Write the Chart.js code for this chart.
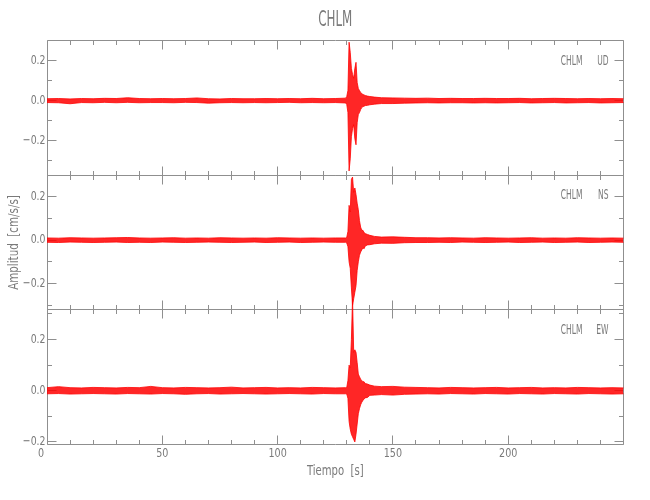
<!DOCTYPE html>
<html>
<head>
<meta charset="utf-8">
<title>CHLM</title>
<script src="https://cdn.jsdelivr.net/npm/chart.js"></script>
<style>
  html, body { margin: 0; padding: 0; background: #fff; }
  #wrap { width: 650px; height: 500px; }
</style>
</head>
<body>
<div id="wrap"><canvas id="sismo" width="650" height="500"></canvas></div>
<script>
// Estacion y componentes
const station = 'CHLM';
const components = ['UD', 'NS', 'EW'];

// Tiempo [s] del ruido (muestreado cada 5 s, fuera de la ventana del evento)
const noiseTime = [0, 5, 10, 15, 20, 25, 30, 35, 40, 45, 50, 55, 60, 65, 70, 75, 80, 85, 90, 95, 100, 105, 110, 115, 120, 125,
    150, 155, 160, 165, 170, 175, 180, 185, 190, 195, 200, 205, 210, 215, 220, 225, 230, 235, 240, 245, 250];
// Tiempo [s] de la ventana del evento
const burstTime = [129.5, 130, 130.5, 131, 131.5, 132, 132.5, 133, 133.5, 134, 134.5, 135, 135.5, 136, 136.5, 137, 137.5, 138, 139, 140, 142, 145];

// Envolvente (max / min) en cm/s/s
const udNoiseHi = [.009, .010, .008, .010, .009, .011, .010, .014, .010, .009, .010, .009, .010, .013, .009, .008, .010, .009, .009, .010, .009, .010, .009, .011, .009, .010,
    .013, .012, .011, .012, .010, .011, .010, .010, .011, .010, .010, .011, .009, .010, .011, .010, .009, .010, .009, .010, .009];
const udNoiseLo = [-.010, -.011, -.016, -.010, -.011, -.009, -.011, -.009, -.011, -.010, -.010, -.011, -.009, -.010, -.013, -.011, -.010, -.011, -.010, -.011, -.010, -.009, -.011, -.010, -.011, -.010,
    -.015, -.013, -.012, -.011, -.012, -.011, -.011, -.012, -.011, -.012, -.011, -.010, -.012, -.011, -.010, -.012, -.011, -.010, -.012, -.011, -.010];
const udBurstHi = [.012, .02, .05, .29, .24, .16, .13, .11, .16, .19, .09, .06, .05, .04, .035, .03, .028, .025, .022, .02, .017, .014];
const udBurstLo = [-.012, -.02, -.06, -.35, -.29, -.18, -.14, -.12, -.19, -.22, -.11, -.07, -.06, -.045, -.035, -.03, -.028, -.025, -.024, -.021, -.018, -.015];

const nsNoiseHi = [.010, .009, .011, .010, .009, .010, .011, .012, .010, .009, .010, .011, .009, .010, .009, .011, .010, .009, .010, .009, .011, .010, .009, .010, .009, .010,
    .015, .013, .011, .011, .010, .011, .010, .009, .011, .010, .009, .010, .011, .009, .010, .009, .011, .010, .009, .010, .009];
const nsNoiseLo = [-.010, -.011, -.009, -.010, -.011, -.010, -.009, -.011, -.010, -.011, -.009, -.010, -.011, -.010, -.009, -.010, -.011, -.010, -.009, -.011, -.010, -.009, -.011, -.010, -.009, -.010,
    -.015, -.012, -.011, -.011, -.010, -.011, -.009, -.010, -.011, -.010, -.009, -.011, -.010, -.009, -.011, -.010, -.009, -.011, -.010, -.009, -.010];
const nsBurstHi = [.010, .013, .04, .16, .13, .28, .29, .22, .24, .21, .17, .14, .09, .06, .045, .045, .035, .03, .026, .022, .017, .014];
const nsBurstLo = [-.010, -.013, -.03, -.10, -.13, -.22, -.30, -.27, -.24, -.21, -.14, -.10, -.07, -.055, -.045, -.035, -.04, -.027, -.022, -.021, -.017, -.014];

const ewNoiseHi = [.012, .016, .012, .011, .013, .012, .011, .013, .012, .017, .012, .011, .013, .012, .011, .012, .014, .011, .012, .013, .011, .012, .011, .013, .012, .011,
    .017, .014, .013, .012, .011, .013, .012, .011, .012, .013, .011, .012, .013, .011, .012, .011, .013, .012, .011, .012, .011];
const ewNoiseLo = [-.012, -.011, -.013, -.012, -.011, -.012, -.013, -.011, -.012, -.013, -.011, -.012, -.014, -.012, -.011, -.013, -.012, -.011, -.012, -.013, -.012, -.011, -.012, -.013, -.011, -.012,
    -.017, -.014, -.013, -.012, -.013, -.011, -.012, -.013, -.011, -.012, -.013, -.011, -.012, -.013, -.011, -.012, -.013, -.011, -.012, -.013, -.012];
const ewBurstHi = [.012, .013, .04, .10, .09, .20, .36, .15, .16, .15, .11, .065, .055, .045, .04, .035, .035, .028, .026, .022, .018, .016];
const ewBurstLo = [-.012, -.013, -.03, -.12, -.15, -.17, -.18, -.19, -.20, -.17, -.13, -.09, -.07, -.055, -.045, -.038, -.032, -.028, -.026, -.018, -.017, -.015];

// Rango de cada eje Y y marcas
const yRanges = [[-0.371, 0.2985], [-0.321, 0.299], [-0.21, 0.316]];
const xTickLabels = [0, 50, 100, 150, 200];
const yTickLabels = [-0.2, 0.0, 0.2];

const FONT = "'Liberation Sans Narrow', 'DejaVu Sans Condensed', 'Liberation Sans', sans-serif";
const AXIS = '#8f8f8f';
const TEXT = '#7a7a7a';
const RED = '#ff0000';

function buildSeries(noiseVals, burstVals) {
    const pts = [];
    noiseTime.forEach((t, i) => { if (t < burstTime[0]) pts.push({ x: t, y: noiseVals[i] }); });
    burstTime.forEach((t, i) => pts.push({ x: t, y: burstVals[i] }));
    noiseTime.forEach((t, i) => { if (t > burstTime[burstTime.length - 1]) pts.push({ x: t, y: noiseVals[i] }); });
    return pts;
}

const traces = [
    { hi: buildSeries(udNoiseHi, udBurstHi), lo: buildSeries(udNoiseLo, udBurstLo) },
    { hi: buildSeries(nsNoiseHi, nsBurstHi), lo: buildSeries(nsNoiseLo, nsBurstLo) },
    { hi: buildSeries(ewNoiseHi, ewBurstHi), lo: buildSeries(ewNoiseLo, ewBurstLo) }
];

const datasets = [];
traces.forEach((tr, i) => {
    const axis = 'y' + components[i];
    const base = { yAxisID: axis, xAxisID: 'x', borderColor: RED, borderWidth: 0.8, pointRadius: 0, tension: 0, clip: false };
    datasets.push(Object.assign({}, base, { label: components[i] + ' max', data: tr.hi, fill: '+1', backgroundColor: 'rgba(255, 0, 0, 0.85)' }));
    datasets.push(Object.assign({}, base, { label: components[i] + ' min', data: tr.lo, fill: false }));
});

const scales = { x: { type: 'linear', min: 0, max: 250, display: false } };
components.forEach((c, i) => {
    scales['y' + c] = {
        type: 'linear', position: 'left', stack: 'panels', stackWeight: 1, weight: 3 - i,
        min: yRanges[i][0], max: yRanges[i][1], display: false
    };
});

function drawText(ctx, str, x, y, size, sx, align, rot) {
    ctx.save();
    ctx.translate(x, y);
    if (rot) ctx.rotate(rot);
    ctx.scale(sx, 1);
    ctx.font = size + 'px ' + FONT;
    ctx.fillStyle = TEXT;
    ctx.textAlign = align;
    ctx.textBaseline = 'middle';
    ctx.fillText(str, 0, 0);
    ctx.restore();
}

function fmt(v) {
    const s = Math.abs(v).toFixed(1);
    return v < -1e-9 ? '\u2212' + s : s;
}

// Marcos, marcas y textos al estilo IDL
const framePlugin = {
    id: 'frame',
    beforeDatasetsDraw(chart) {
        const ctx = chart.ctx;
        const { left, right, top, bottom } = chart.chartArea;
        const xs = chart.scales.x;
        const L = Math.floor(left) + 0.5, R = Math.floor(right) + 0.5;
        ctx.save();
        ctx.strokeStyle = AXIS;
        ctx.lineWidth = 1;
        components.forEach((c, i) => {
            const ys = chart.scales['y' + c];
            const T = Math.floor(ys.top) + 0.5, B = Math.floor(ys.bottom) + 0.5;
            ctx.beginPath();
            ctx.rect(L, T, R - L, B - T);
            // marcas en X arriba y abajo
            for (let t = 0; t <= 250; t += 10) {
                const px = Math.floor(xs.getPixelForValue(t)) + 0.5;
                const len = t % 50 === 0 ? 9 : 4.5;
                ctx.moveTo(px, T); ctx.lineTo(px, T + len);
                ctx.moveTo(px, B); ctx.lineTo(px, B - len);
            }
            // marcas en Y izquierda y derecha
            for (let k = -4; k <= 4; k++) {
                const v = k / 10;
                if (v < ys.min - 1e-6 || v > ys.max + 1e-6) continue;
                const py = Math.floor(ys.getPixelForValue(v)) + 0.5;
                const len = k % 2 === 0 ? 9 : 4.5;
                ctx.moveTo(L, py); ctx.lineTo(L + len, py);
                ctx.moveTo(R, py); ctx.lineTo(R - len, py);
            }
            ctx.stroke();

            yTickLabels.forEach(v => {
                if (v < ys.min || v > ys.max) return;
                drawText(ctx, fmt(v), left - 1.5, ys.getPixelForValue(v), 13, 0.8, 'right');
            });
            drawText(ctx, c, right - 15, ys.top + 20.5, 14, 0.6, 'right');
            drawText(ctx, station, right - 41, ys.top + 20.5, 14, 0.6, 'right');
        });
        ctx.restore();

        xTickLabels.forEach(t => drawText(ctx, String(t), xs.getPixelForValue(t) - (t === 0 ? 6 : 0), bottom + 9.5, 13, 0.82, 'center'));
        const cx = (left + right) / 2;
        drawText(ctx, station, cx, 20, 22, 0.6, 'center');
        drawText(ctx, 'Tiempo  [s]', cx, bottom + 27, 14, 0.8, 'center');
        drawText(ctx, 'Amplitud  [cm/s/s]', 14, (top + bottom) / 2, 14, 0.82, 'center', -Math.PI / 2);
    }
};

new Chart(document.getElementById('sismo').getContext('2d'), {
    type: 'line',
    data: { datasets },
    options: {
        responsive: false,
        animation: false,
        layout: { padding: { left: 47, right: 26.5, top: 40.5, bottom: 55.5 } },
        plugins: { legend: { display: false }, tooltip: { enabled: false } },
        scales
    },
    plugins: [framePlugin]
});
</script>
</body>
</html>
